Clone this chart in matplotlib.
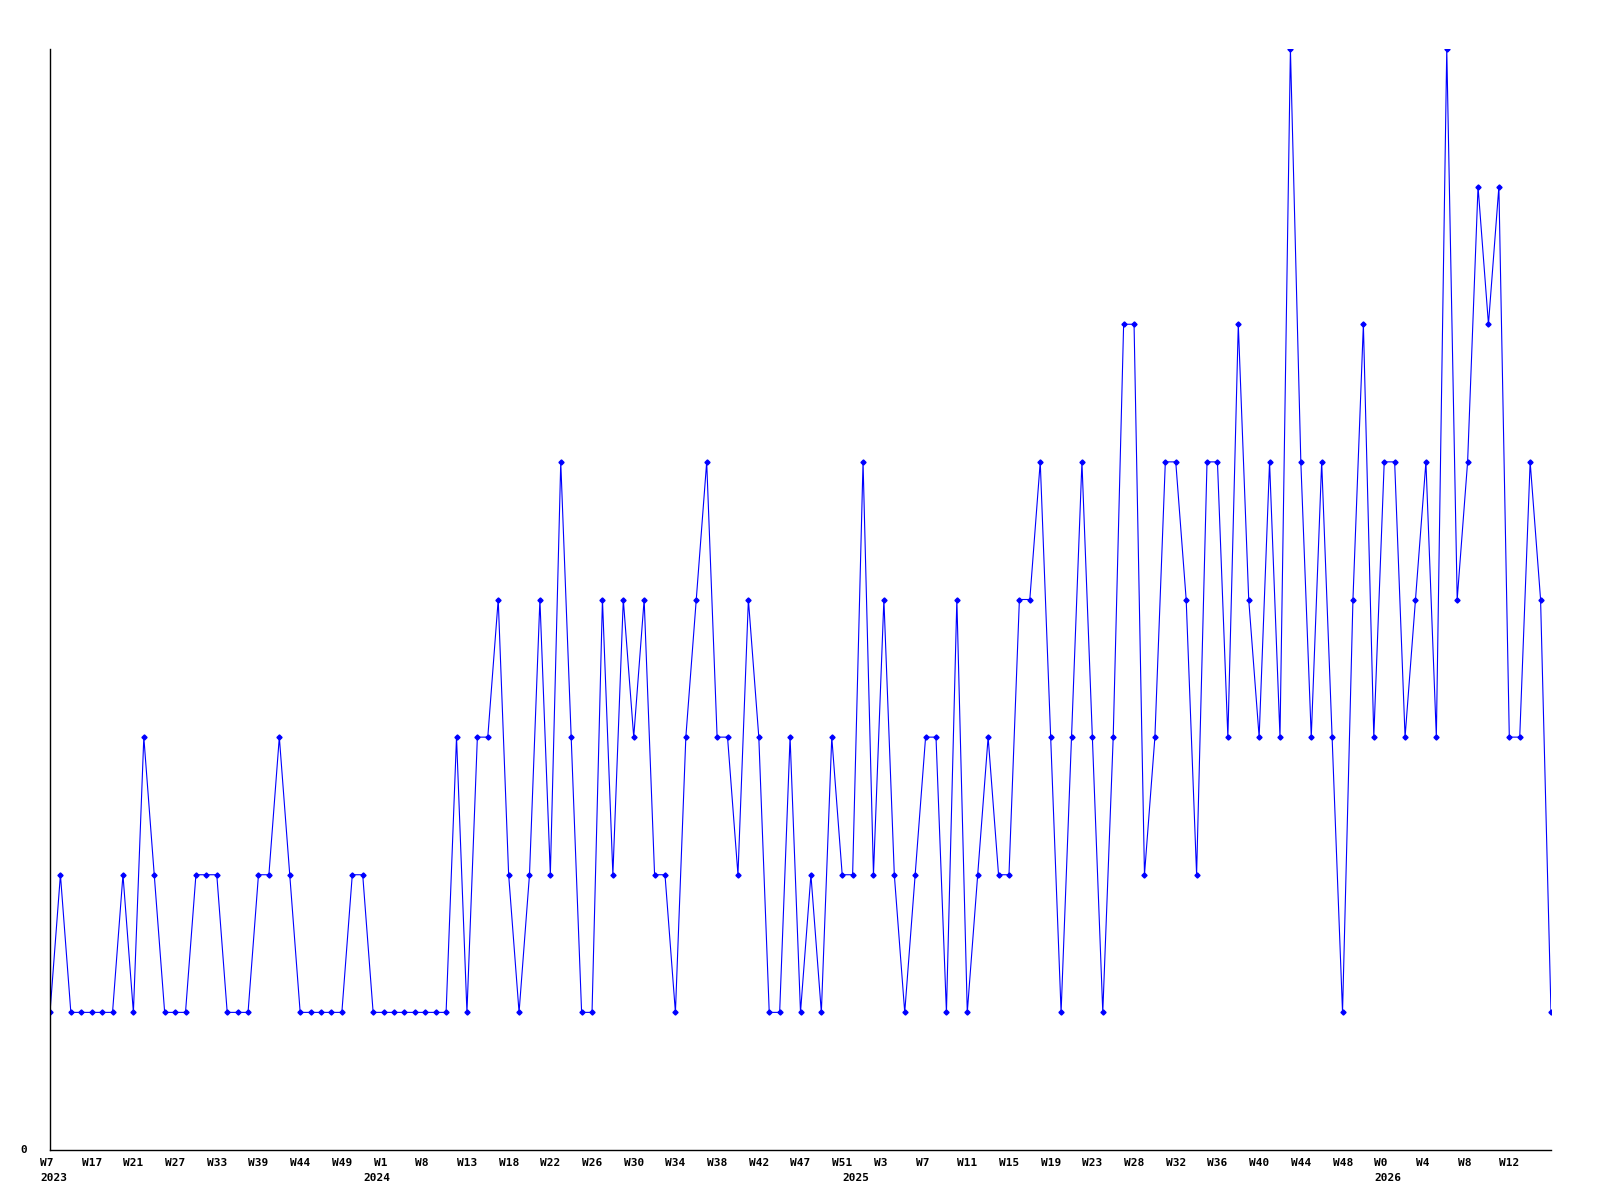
import matplotlib
matplotlib.use('Agg')
import matplotlib.pyplot as plt
from matplotlib.transforms import offset_copy, blended_transform_factory

# weekly counts, one point per week in the series
counts = [1, 2, 1, 1, 1, 1, 1, 2, 1, 3,
          2, 1, 1, 1, 2, 2, 2, 1, 1, 1,
          2, 2, 3, 2, 1, 1, 1, 1, 1, 2,
          2, 1, 1, 1, 1, 1, 1, 1, 1, 3,
          1, 3, 3, 4, 2, 1, 2, 4, 2, 5,
          3, 1, 1, 4, 2, 4, 3, 4, 2, 2,
          1, 3, 4, 5, 3, 3, 2, 4, 3, 1,
          1, 3, 1, 2, 1, 3, 2, 2, 5, 2,
          4, 2, 1, 2, 3, 3, 1, 4, 1, 2,
          3, 2, 2, 4, 4, 5, 3, 1, 3, 5,
          3, 1, 3, 6, 6, 2, 3, 5, 5, 4,
          2, 5, 5, 3, 6, 4, 3, 5, 3, 8,
          5, 3, 5, 3, 1, 4, 6, 3, 5, 5,
          3, 4, 5, 3, 8, 4, 5, 7, 6, 7,
          3, 3, 5, 4, 1]

# a week label on every 4th point
week_labels = ['W7', 'W17', 'W21', 'W27', 'W33', 'W39', 'W44', 'W49',
               'W1', 'W8', 'W13', 'W18', 'W22', 'W26', 'W30', 'W34', 'W38', 'W42', 'W47', 'W51',
               'W3', 'W7', 'W11', 'W15', 'W19', 'W23', 'W28', 'W32', 'W36', 'W40', 'W44', 'W48',
               'W0', 'W4', 'W8', 'W12']
label_step = 4

# first point of each year
years = ['2023', '2024', '2025', '2026']
year_start = [0, 31, 77, 128]

fig = plt.figure(figsize=(16, 12), dpi=100)
ax = fig.add_axes([50 / 1600, 1 - 1150 / 1200, 1501 / 1600, 1101 / 1200])

x = list(range(len(counts)))
ax.plot(x, counts, color='#0000ff', linewidth=0.8, marker='D', markersize=2.6,
        markerfacecolor='#0000ff', markeredgecolor='#0000ff')

ax.set_xlim(0, len(counts) - 1)
ax.set_ylim(0, max(counts))

for s in ['top', 'right']:
    ax.spines[s].set_visible(False)
for s in ['left', 'bottom']:
    ax.spines[s].set_linewidth(1.0)
    ax.spines[s].set_color('black')

ax.set_xticks([])
ax.set_yticks([])

font = dict(family='DejaVu Sans Mono', fontsize=8, fontweight='bold', color='black')

trans = blended_transform_factory(ax.transData, ax.transAxes)
wtrans = offset_copy(trans, fig=fig, x=-10, y=-8, units='dots')
ytrans = offset_copy(trans, fig=fig, x=-10, y=-23, units='dots')

for k, lab in enumerate(week_labels):
    ax.text(k * label_step, 0, lab, transform=wtrans, ha='left', va='top', **font)
for yr, i in zip(years, year_start):
    ax.text(i, 0, yr, transform=ytrans, ha='left', va='top', **font)

ztrans = offset_copy(ax.transAxes, fig=fig, x=-30, y=0, units='dots')
ax.text(0, 0, '0', transform=ztrans, ha='left', va='center', **font)

fig.savefig('out.png', dpi=100)
